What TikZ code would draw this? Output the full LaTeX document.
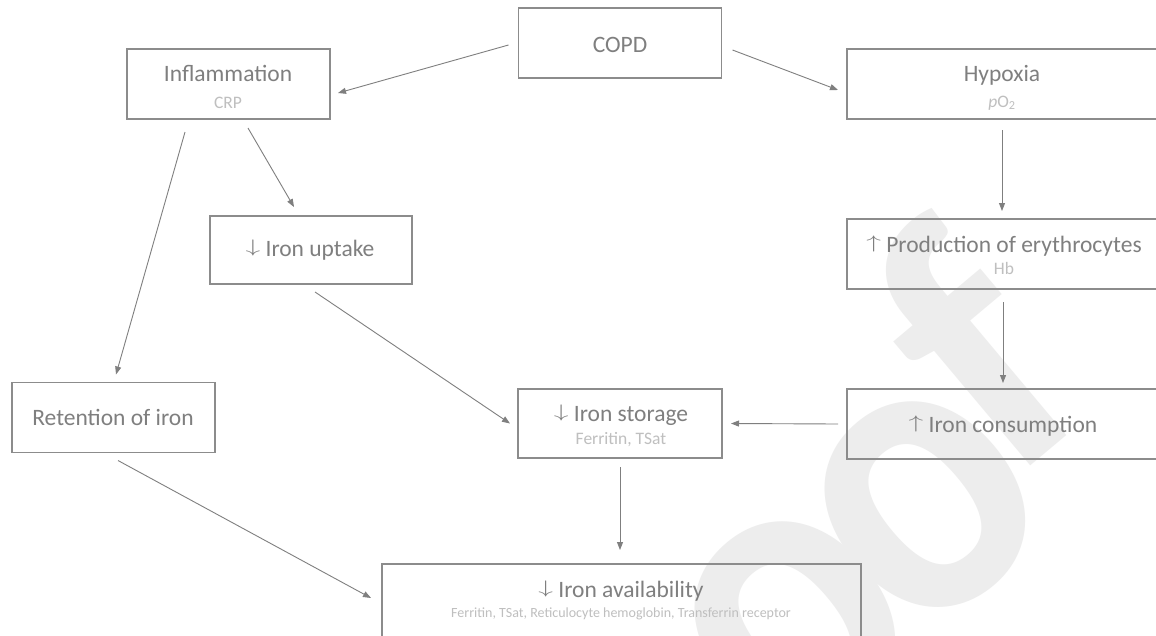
\documentclass[tikz,border=0pt]{standalone}
\usepackage{fontspec}
\setmainfont{Carlito}
\newfontfamily\wmfont{Carlito}
\usetikzlibrary{arrows.meta,calc}
\definecolor{maintxt}{HTML}{7F7F7F}
\definecolor{subtxt}{HTML}{BFBFBF}
\definecolor{boxc}{HTML}{8C8C8C}
\definecolor{arrc}{HTML}{7F7F7F}
\definecolor{wmark}{HTML}{EDEDED}
\newcommand{\dnarr}{\raisebox{3.6pt}{\scalebox{1.7}[1.05]{\fontsize{17.28}{17}\selectfont$\downarrow$}}}
\newcommand{\uparr}{\raisebox{3.6pt}{\scalebox{1.7}[1.05]{\fontsize{17.28}{17}\selectfont$\uparrow$}}}
\tikzset{
  box/.style={draw=boxc, line width=1.1pt, minimum width=203pt, minimum height=70pt, inner sep=0pt, outer sep=0pt},
  widebox/.style={box, minimum width=310pt},
  maintext/.style={text=maintxt, font=\fontsize{23.5}{28}\selectfont, anchor=base, inner sep=0pt},
  subtext/.style={text=subtxt, font=\fontsize{17.5}{21}\selectfont, anchor=base, inner sep=0pt},
  smalltext/.style={text=subtxt, font=\fontsize{14}{17}\selectfont, anchor=base, inner sep=0pt},
  conn/.style={draw=arrc, line width=0.9pt, -{Triangle[length=8pt,width=6pt]}},
  wmletter/.style={rotate=40, text=wmark, font=\wmfont\bfseries\fontsize{380}{380}\selectfont, inner sep=0pt},
}
\begin{document}
\begin{tikzpicture}[x=1pt,y=-1pt]
\useasboundingbox (0,0) rectangle (1156,635);
\clip (0,0) rectangle (1156,635);
\fill[white] (0,0) rectangle (1156,635);
% watermark letters
\node[wmletter, yscale=1.12] (wmo1) at (795,625) {o};
\node[wmletter, yscale=1.12] (wmo2) at (925,505) {o};
\node[wmletter] (wmf) at (970,345) {f};
% boxes
\node[box] (copd) at (620,43) {};
\node[maintext] (copdT) at (620,52) {COPD};
\node[box] (infl) at (228.5,84) {};
\node[maintext] (inflT) at (228,81) {Inflammation};
\node[subtext] (inflS) at (228,108) {CRP};
\node[widebox] (hyp) at (1002,84) {};
\node[maintext] (hypT) at (1002,81) {Hypoxia};
\node[subtext] (hypS) at (1002,107) {\textit{p}O\textsubscript{2}};
\node[box, minimum width=202pt, minimum height=68pt] (upt) at (311,250) {};
\node[maintext] (uptT) at (310,256) {\dnarr\ Iron uptake};
\node[widebox] (prod) at (1002,254) {};
\node[maintext] (prodT) at (1004,252) {\uparr\ Production of erythrocytes};
\node[subtext] (prodS) at (1004,274) {Hb};
\node[box] (ret) at (113.5,417.5) {};
\node[maintext] (retT) at (113,425) {Retention of iron};
\node[box, minimum width=204pt, minimum height=69pt] (stor) at (620,423.5) {};
\node[maintext] (storT) at (621,421) {\dnarr\ Iron storage};
\node[subtext] (storS) at (621,444) {Ferritin, TSat};
\node[widebox] (cons) at (1002,424) {};
\node[maintext] (consT) at (1003,432) {\uparr\ Iron consumption};
\node[box, minimum width=479pt, minimum height=76pt] (avail) at (621.5,602) {};
\node[maintext] (availT) at (621,597) {\dnarr\ Iron availability};
\node[smalltext] (availS) at (621,617) {Ferritin, TSat, Reticulocyte hemoglobin, Transferrin receptor};
% connectors
\draw[conn] ($(copd.west)+(-10,2)$) -- ($(infl.east)+(8,9)$);
\draw[conn] ($(copd.east)+(11,7)$) -- ($(hyp.west)+(-9,6)$);
\draw[conn] ($(hyp.south)+(0,11)$) -- ($(prod.north)+(0,-8)$);
\draw[conn] ($(prod.south)+(1,13)$) -- ($(cons.north)+(1,-6)$);
\draw[conn] ($(cons.west)+(-9,0)$) -- ($(stor.east)+(9,0)$);
\draw[conn] ($(infl.south)+(19.5,9)$) -- ($(upt.north)+(-17,-9)$);
\draw[conn] ($(infl.south)+(-43.5,13)$) -- ($(ret.north)+(2.5,-8)$);
\draw[conn] ($(upt.south)+(4,8)$) -- ($(stor.west)+(-8,0)$);
\draw[conn] ($(ret.south)+(4.5,8)$) -- ($(avail.west)+(-11,-4)$);
\draw[conn] ($(stor.south)+(0,9)$) -- ($(avail.north)+(-1.5,-14)$);
\end{tikzpicture}
\end{document}
